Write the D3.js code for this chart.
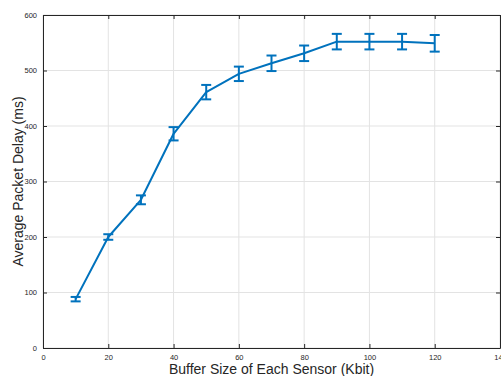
<!DOCTYPE html>
<html>
<head>
<meta charset="utf-8">
<script src="https://cdn.jsdelivr.net/npm/d3@7"></script>
<style>
  html, body { margin: 0; padding: 0; background: #fff; }
  svg { display: block; }
</style>
</head>
<body>
<svg id="chart" width="501" height="376"></svg>
<script>
const bufferSizes = [10, 20, 30, 40, 50, 60, 70, 80, 90, 100, 110, 120];
const avgDelay    = [88, 200, 267, 386, 461, 494, 513, 531, 552, 552, 552, 549];
const delayError  = [4, 5, 8, 12, 13, 13, 14, 14, 14, 14, 14, 15];
const xTicks = [0, 20, 40, 60, 80, 100, 120, 140];
const yTicks = [0, 100, 200, 300, 400, 500, 600];

const svg = d3.select("#chart");
const m = { left: 43, right: 500, top: 15, bottom: 348 };
const x = d3.scaleLinear().domain([0, 140]).range([m.left, m.right]);
const y = d3.scaleLinear().domain([0, 600]).range([m.bottom, m.top]);
const blue = "#0072BD", axisCol = "#262626";
const font = "'Liberation Sans', Arial, Helvetica, sans-serif";

// grid
const g = svg.append("g");
g.selectAll(".gx").data(xTicks).join("line")
  .attr("x1", d => x(d)).attr("x2", d => x(d))
  .attr("y1", m.top).attr("y2", m.bottom)
  .attr("stroke", "#e3e3e3").attr("stroke-width", 1);
g.selectAll(".gy").data(yTicks).join("line")
  .attr("x1", m.left).attr("x2", m.right)
  .attr("y1", d => y(d)).attr("y2", d => y(d))
  .attr("stroke", "#e3e3e3").attr("stroke-width", 1);

// axes
const xAxis = d3.axisBottom(x).tickValues(xTicks).tickSizeInner(-4).tickSizeOuter(0).tickPadding(7);
const yAxis = d3.axisLeft(y).tickValues(yTicks).tickSizeInner(-4).tickSizeOuter(0).tickPadding(6);
const xTop = d3.axisTop(x).tickValues(xTicks).tickSizeInner(-4).tickSizeOuter(0).tickFormat("");
const yRight = d3.axisRight(y).tickValues(yTicks).tickSizeInner(-4).tickSizeOuter(0).tickFormat("");

function style(sel) {
  sel.selectAll("path").attr("stroke", axisCol).attr("stroke-width", 1);
  sel.selectAll("line").attr("stroke", axisCol).attr("stroke-width", 1);
  sel.selectAll("text").attr("fill", axisCol).style("font-family", font).style("font-size", "7.5px");
}
svg.append("g").attr("transform", `translate(0,${m.top})`).call(xTop).call(style);
svg.append("g").attr("transform", `translate(${m.right},0)`).call(yRight).call(style);
svg.append("g").attr("transform", `translate(0,${m.bottom})`).call(xAxis).call(style);
svg.append("g").attr("transform", `translate(${m.left},0)`).call(yAxis).call(style);

// data
const data = bufferSizes.map((b, i) => ({ x: b, y: avgDelay[i], e: delayError[i] }));
const line = d3.line().x(d => x(d.x)).y(d => y(d.y));
svg.append("path").datum(data).attr("d", line)
  .attr("fill", "none").attr("stroke", blue).attr("stroke-width", 2).attr("stroke-linejoin", "round");

const eb = svg.append("g").attr("stroke", blue).attr("stroke-width", 2).attr("fill", "none");
const cap = 5;
eb.selectAll(".v").data(data).join("line")
  .attr("x1", d => x(d.x)).attr("x2", d => x(d.x))
  .attr("y1", d => y(d.y - d.e)).attr("y2", d => y(d.y + d.e));
eb.selectAll(".t").data(data).join("line")
  .attr("x1", d => x(d.x) - cap).attr("x2", d => x(d.x) + cap)
  .attr("y1", d => y(d.y + d.e)).attr("y2", d => y(d.y + d.e));
eb.selectAll(".b").data(data).join("line")
  .attr("x1", d => x(d.x) - cap).attr("x2", d => x(d.x) + cap)
  .attr("y1", d => y(d.y - d.e)).attr("y2", d => y(d.y - d.e));

// labels
svg.append("text").attr("x", (m.left + m.right) / 2).attr("y", 374)
  .attr("text-anchor", "middle").attr("fill", axisCol)
  .style("font-family", font).style("font-size", "14px")
  .text("Buffer Size of Each Sensor (Kbit)");
svg.append("text")
  .attr("transform", `translate(23,${(m.top + m.bottom) / 2}) rotate(-90)`)
  .attr("text-anchor", "middle").attr("fill", axisCol)
  .style("font-family", font).style("font-size", "14px")
  .text("Average Packet Delay (ms)");
</script>
</body>
</html>
